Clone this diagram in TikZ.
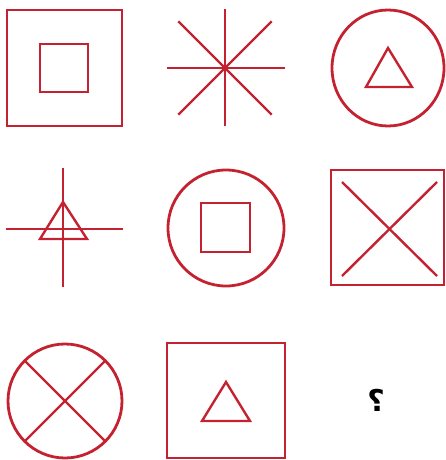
\documentclass[tikz,border=0pt]{standalone}
\usepackage{fontspec}
\newfontfamily\arabicfont[Script=Arabic]{DejaVu Sans}
\TeXXeTstate=1
\usepackage{xcolor}
\definecolor{symred}{HTML}{C42230}
\usetikzlibrary{positioning,calc}
\tikzset{
  sym/.style={draw=symred,line width=2.8pt},
  thin sym/.style={draw=symred,line width=2.4pt},
  qmark/.style={font=\arabicfont\bfseries\fontsize{30}{30}\selectfont,text=black,inner sep=0pt},
}

\begin{document}
\begin{tikzpicture}[x=1pt,y=-1pt]
\useasboundingbox (0,0) rectangle (446,460);
% row 1
\draw[sym] (7,10) rectangle (122,126);
\draw[thin sym] (40,44) rectangle (88,92);
\coordinate (star) at (225,68);
\draw[thin sym] ($(star)+(0,-59)$) -- ($(star)+(0,58)$);
\draw[thin sym] ($(star)+(-58,0)$) -- ($(star)+(60,0)$);
\foreach \a in {45,135} \draw[thin sym] ($(star)+(\a:66)$) -- ($(star)+(\a+180:66)$);
\coordinate (ring1) at (388,68);
\draw[sym] (ring1) ellipse [x radius=56,y radius=58];
\draw[thin sym] (388,48) -- (412,87) -- (366,87) -- cycle;
% row 2
\coordinate (cross) at (63,229);
\draw[thin sym] (63,168) -- (63,287);
\draw[thin sym] (6,229) -- (123,229);
\draw[thin sym] (63,202) -- (87,239) -- (40,239) -- cycle;
\coordinate (ring2) at (226,228);
\draw[sym] (ring2) circle [radius=58];
\draw[thin sym] (201,203) rectangle (250,252);
\draw[sym] (331,170) rectangle (444,285);
\draw[thin sym] (342,182) -- (437,276);
\draw[thin sym] (437,182) -- (342,276);
% row 3
\coordinate (ring3) at (65,401);
\draw[sym] (ring3) circle [radius=57];
\foreach \a in {45,135} \draw[thin sym] ($(ring3)+(\a:57)$) -- ($(ring3)+(\a+180:57)$);
\draw[sym] (167,343) rectangle (285,458);
\draw[thin sym] (226,382) -- (250,421) -- (202,421) -- cycle;
\node[qmark] (ask) at (376,400) {\beginR ؟\endR};
\end{tikzpicture}
\end{document}
